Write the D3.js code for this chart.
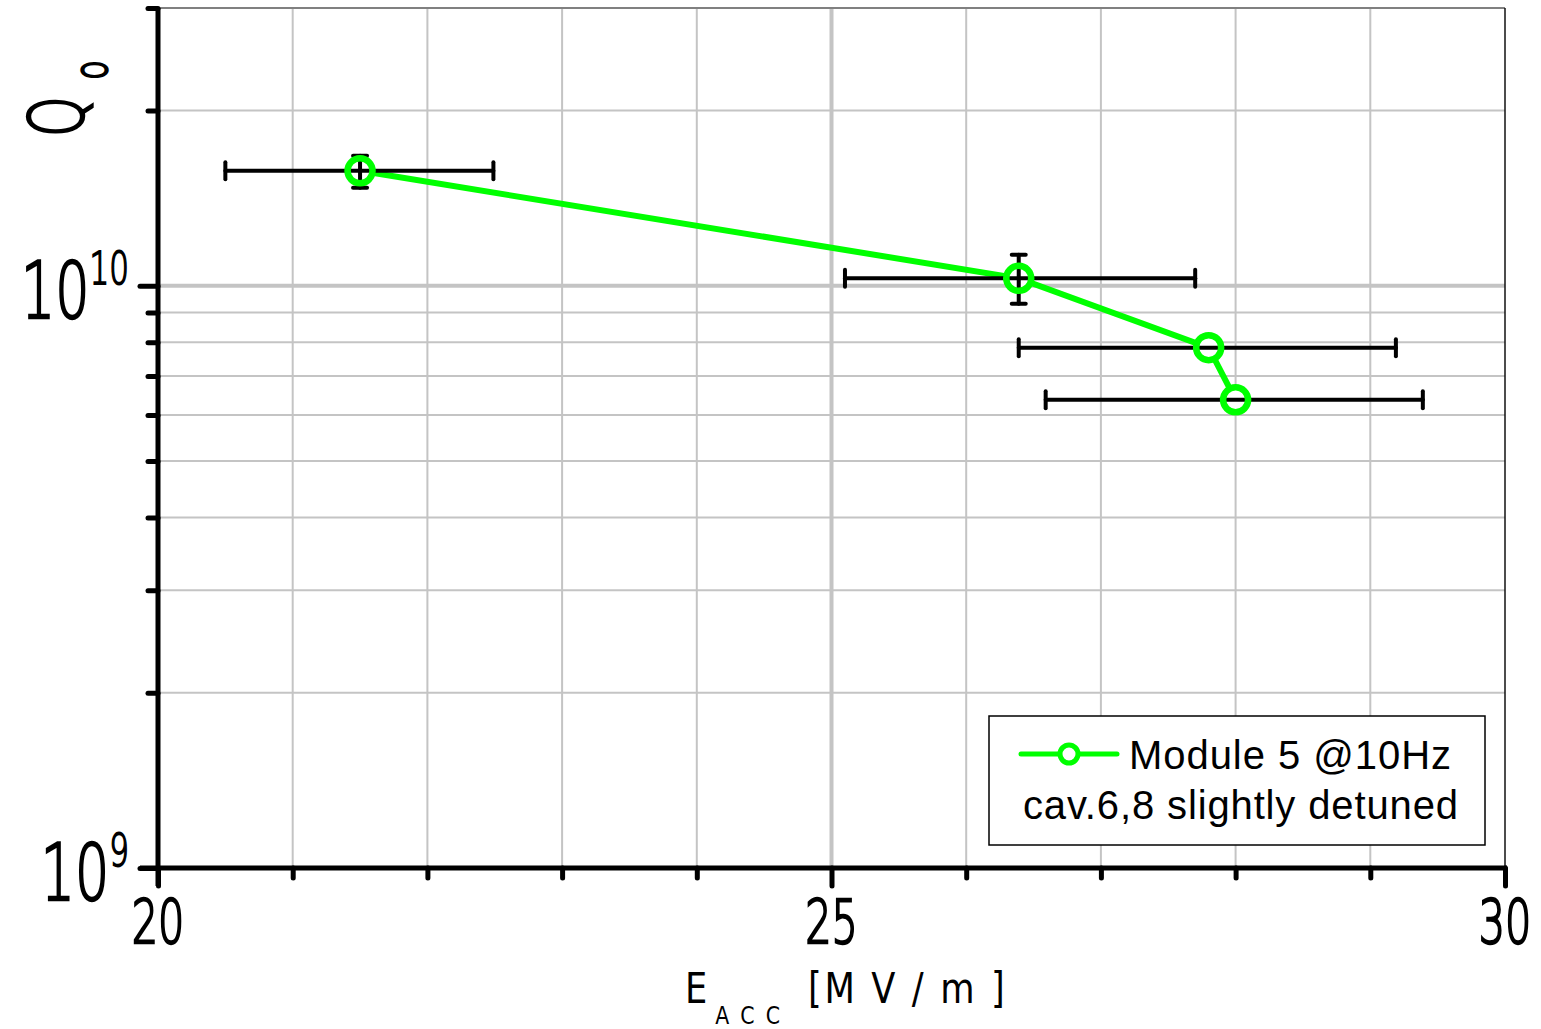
<!DOCTYPE html>
<html>
<head>
<meta charset="utf-8">
<script src="https://cdn.jsdelivr.net/npm/d3@7"></script>
<style>
  body { margin: 0; background: #fff; }
  svg { display: block; }
  .narrow { font-family: "DejaVu Sans ExtraLight", "DejaVu Sans", sans-serif; font-weight: 200;
            stroke: #000; stroke-width: 2.4px; }
  .title { font-family: "DejaVu Sans", sans-serif; }
</style>
</head>
<body>
<div id="chart"></div>
<script>
// Data: E_acc [MV/m] and Q0, with error bars.
const eacc    = [21.5, 26.39, 27.80, 28.0];
const eaccLo  = [20.5, 25.10, 26.39, 26.59];
const eaccHi  = [22.49, 27.70, 29.19, 29.39];
const q0      = [1.576e10, 1.03e10, 7.83e9, 6.37e9];
const q0Lo    = [1.474e10, 9.31e9, null, null];
const q0Hi    = [1.672e10, 1.131e10, null, null];

const xTicks = [20, 21, 22, 23, 24, 25, 26, 27, 28, 29, 30];
const xLabels = [20, 25, 30];
const yMinor = [2e9, 3e9, 4e9, 5e9, 6e9, 7e9, 8e9, 9e9, 2e10, 3e10];
const yMajor = [1e9, 1e10];

const legendLines = ["Module 5 @10Hz", "cav.6,8 slightly detuned"];

const W = 1541, H = 1029;
const L = 158, R = 1505, T = 8, B = 868;
const SX = 0.69; // horizontal squeeze for the narrow axis font

const x = d3.scaleLinear().domain([20, 30]).range([L, R]);
const y = d3.scaleLog().domain([1e9, 3e10]).range([B, T]);

const svg = d3.select('#chart').append('svg')
    .attr('width', W)
    .attr('height', H);

// grid lines
const grid = svg.append('g');
grid.selectAll('.vg')
    .data(xTicks.filter(d => d > 20 && d < 30))
    .enter().append('line')
    .attr('x1', d => x(d)).attr('x2', d => x(d))
    .attr('y1', T).attr('y2', B)
    .attr('stroke', '#c4c4c4')
    .attr('stroke-width', d => d === 25 ? 4 : 2);
grid.selectAll('.hg')
    .data(yMinor.concat([1e10]).filter(d => d < 3e10))
    .enter().append('line')
    .attr('x1', L).attr('x2', R)
    .attr('y1', d => y(d)).attr('y2', d => y(d))
    .attr('stroke', '#c4c4c4')
    .attr('stroke-width', d => d === 1e10 ? 4 : 2);

// frame top and right
svg.append('line').attr('x1', L).attr('x2', R).attr('y1', T).attr('y2', T)
    .attr('stroke', '#808080').attr('stroke-width', 2);
svg.append('line').attr('x1', R).attr('x2', R).attr('y1', T).attr('y2', B)
    .attr('stroke', '#111').attr('stroke-width', 1.5);

// axes: ticks drawn by d3 axis, then styled
const xAxis = svg.append('g')
    .attr('transform', `translate(0,${B})`)
    .call(d3.axisBottom(x).tickValues(xTicks).tickSize(10).tickFormat(''));
xAxis.selectAll('.tick line')
    .attr('y2', d => xLabels.includes(d) ? 18 : 10);
const yAxis = svg.append('g')
    .attr('transform', `translate(${L},0)`)
    .call(d3.axisLeft(y).tickValues(yMajor.concat(yMinor)).tickSize(10).tickFormat(''));
yAxis.selectAll('.tick line')
    .attr('x2', d => yMajor.includes(d) ? -18 : -10);
[xAxis, yAxis].forEach(a => {
    a.select('.domain').remove();
    a.selectAll('.tick line')
        .attr('stroke', '#000')
        .attr('stroke-width', 5)
        .attr('stroke-linecap', 'round');
});
svg.append('line').attr('x1', L).attr('x2', L).attr('y1', T).attr('y2', B + 18)
    .attr('stroke', '#000').attr('stroke-width', 5);
svg.append('line').attr('x1', L - 18).attr('x2', R + 2).attr('y1', B).attr('y2', B)
    .attr('stroke', '#000').attr('stroke-width', 5);

// x tick labels
svg.selectAll('.xl')
    .data(xLabels)
    .enter().append('text')
    .attr('class', 'narrow')
    .attr('transform', d => `translate(${x(d)},943) scale(${SX},1)`)
    .attr('text-anchor', 'middle')
    .attr('font-size', 60)
    .text(d => d);

// y tick labels 10^n, right aligned
svg.selectAll('.yl')
    .data(yMajor)
    .enter().append('text')
    .attr('class', 'narrow')
    .attr('transform', d => `translate(129,${y(d) + 32}) scale(${SX},1)`)
    .attr('text-anchor', 'end')
    .attr('font-size', 78)
    .each(function(d) {
        const t = d3.select(this);
        t.append('tspan').text('10');
        t.append('tspan').attr('font-size', 45).attr('dy', -34)
            .style('stroke-width', '1.8px')
            .text(Math.round(Math.log10(d)));
    });

// axis titles
const xt = svg.append('g')
    .attr('class', 'title')
    .attr('transform', 'translate(685,1003) scale(0.82,1)');
xt.append('text').attr('x', 0).attr('font-size', 43).text('E');
xt.append('text').attr('x', 37).attr('y', 21).attr('font-size', 25)
    .attr('textLength', 79).attr('lengthAdjust', 'spacing').text('ACC');
xt.append('text').attr('x', 150).attr('font-size', 43)
    .attr('textLength', 240).attr('lengthAdjust', 'spacing').text('[M V / m ]');

const yt = svg.append('text')
    .attr('class', 'narrow')
    .attr('transform', `translate(83,137) rotate(-90) scale(${SX},1)`)
    .attr('font-size', 75);
yt.append('tspan').text('Q');
yt.append('tspan').attr('font-size', 46).attr('dy', 24).attr('dx', 24).text('o');

// series line
const pts = eacc.map((e, i) => ({ e, q: q0[i], i }));
svg.append('path')
    .datum(pts)
    .attr('d', d3.line().x(d => x(d.e)).y(d => y(d.q)))
    .attr('fill', 'none')
    .attr('stroke', '#00ff00')
    .attr('stroke-width', 6);

// white centers so the line stops at the symbol
svg.selectAll('.mfill')
    .data(pts)
    .enter().append('circle')
    .attr('cx', d => x(d.e)).attr('cy', d => y(d.q))
    .attr('r', 12.5)
    .attr('fill', '#fff');

// error bars
const eb = svg.append('g').attr('stroke', '#000').attr('stroke-width', 4)
    .attr('stroke-linecap', 'round');
pts.forEach(d => {
    const cy = y(d.q), cx = x(d.e);
    eb.append('line').attr('x1', x(eaccLo[d.i])).attr('x2', x(eaccHi[d.i]))
        .attr('y1', cy).attr('y2', cy);
    [eaccLo[d.i], eaccHi[d.i]].forEach(v => {
        eb.append('line').attr('x1', x(v)).attr('x2', x(v))
            .attr('y1', cy - 8.5).attr('y2', cy + 8.5);
    });
    if (q0Lo[d.i] !== null) {
        eb.append('line').attr('x1', cx).attr('x2', cx)
            .attr('y1', y(q0Lo[d.i])).attr('y2', y(q0Hi[d.i]));
        [q0Lo[d.i], q0Hi[d.i]].forEach(v => {
            eb.append('line').attr('x1', cx - 7).attr('x2', cx + 7)
                .attr('y1', y(v)).attr('y2', y(v));
        });
    }
});

// symbol rings on top
svg.selectAll('.mring')
    .data(pts)
    .enter().append('circle')
    .attr('cx', d => x(d.e)).attr('cy', d => y(d.q))
    .attr('r', 12.5)
    .attr('fill', 'none')
    .attr('stroke', '#00ff00')
    .attr('stroke-width', 6.5);

// legend
const lg = svg.append('g');
lg.append('rect')
    .attr('x', 989).attr('y', 716).attr('width', 496).attr('height', 129)
    .attr('fill', '#fff').attr('stroke', '#000').attr('stroke-width', 1.5);
lg.append('line').attr('x1', 1021).attr('x2', 1117).attr('y1', 754).attr('y2', 754)
    .attr('stroke', '#00ff00').attr('stroke-width', 5).attr('stroke-linecap', 'round');
lg.append('circle').attr('cx', 1069).attr('cy', 754).attr('r', 9)
    .attr('fill', '#fff').attr('stroke', '#00ff00').attr('stroke-width', 5);
lg.append('text')
    .attr('x', 1129).attr('y', 769)
    .attr('font-family', '"Liberation Sans", Arial, sans-serif')
    .attr('font-size', 40)
    .attr('textLength', 322)
    .text(legendLines[0]);
lg.append('text')
    .attr('x', 1023).attr('y', 819)
    .attr('font-family', '"Liberation Sans", Arial, sans-serif')
    .attr('font-size', 40)
    .attr('textLength', 435)
    .text(legendLines[1]);
</script>
</body>
</html>
